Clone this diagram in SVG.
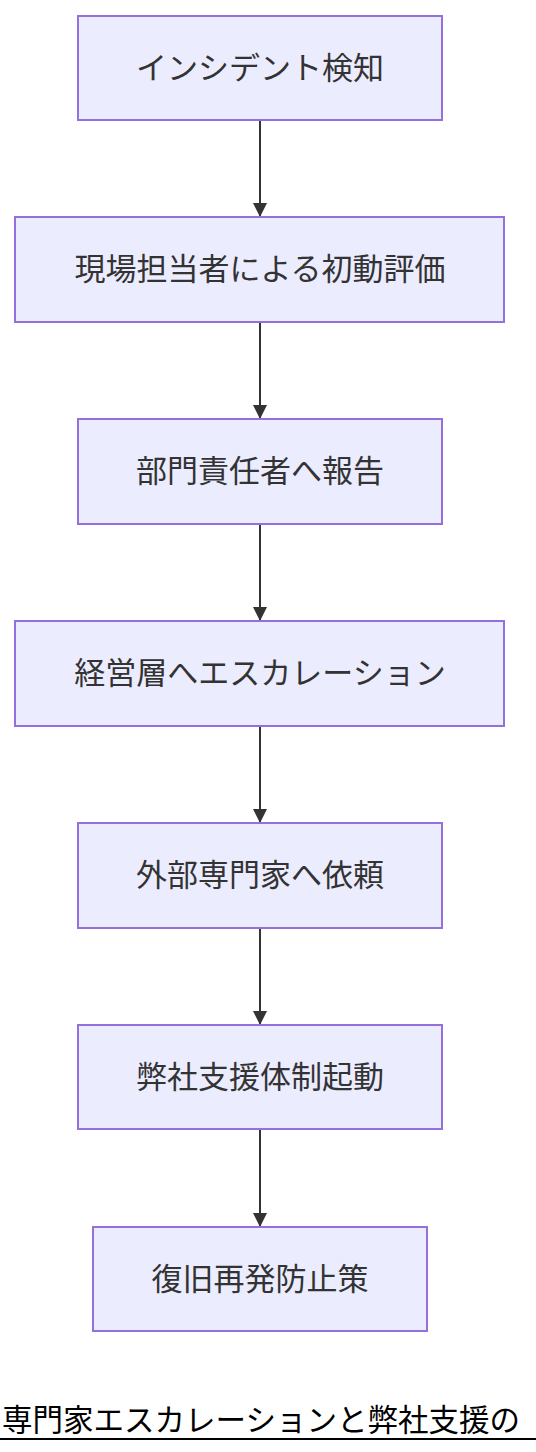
<svg xmlns="http://www.w3.org/2000/svg" width="536" height="1452" viewBox="0 0 536 1452">
<style>
.node rect{fill:#ECECFF;stroke:#9370DB;stroke-width:2}
.node text{font-family:"Noto Sans CJK JP","Noto Sans",sans-serif;font-size:31px;fill:#333;text-anchor:middle;dominant-baseline:central}
.edge{stroke:#333;stroke-width:2;fill:none;marker-end:url(#arrow)}
.title{font-family:"Noto Sans CJK JP","Noto Sans",sans-serif;font-size:30.5px;fill:#000}
</style>
<defs>
<marker id="arrow" viewBox="0 0 10 10" refX="10" refY="5" markerWidth="15" markerHeight="14" markerUnits="userSpaceOnUse" orient="auto">
<path d="M0,0 L10,5 L0,10 z" fill="#333"/>
</marker>
</defs>
<rect width="536" height="1452" fill="#fff"/>
<g id="connectors">
<line class="edge" x1="260" y1="120" x2="260" y2="217"/>
<line class="edge" x1="260" y1="322" x2="260" y2="419"/>
<line class="edge" x1="260" y1="524" x2="260" y2="621"/>
<line class="edge" x1="260" y1="726" x2="260" y2="823"/>
<line class="edge" x1="260" y1="928" x2="260" y2="1025"/>
<line class="edge" x1="260" y1="1129" x2="260" y2="1227"/>
</g>
<g id="n1" class="node"><rect x="78" y="16" width="364" height="104"/><text x="260" y="65.5">インシデント検知</text></g>
<g id="n2" class="node"><rect x="15" y="217" width="489" height="105"/><text x="260" y="266.5">現場担当者による初動評価</text></g>
<g id="n3" class="node"><rect x="78" y="419" width="364" height="105"/><text x="260" y="468.5">部門責任者へ報告</text></g>
<g id="n4" class="node"><rect x="15" y="621" width="489" height="105"/><text x="260" y="670.5">経営層へエスカレーション</text></g>
<g id="n5" class="node"><rect x="78" y="823" width="364" height="105"/><text x="260" y="872.5">外部専門家へ依頼</text></g>
<g id="n6" class="node"><rect x="78" y="1025" width="364" height="104"/><text x="260" y="1074.5">弊社支援体制起動</text></g>
<g id="n7" class="node"><rect x="93" y="1227" width="334" height="104"/><text x="260" y="1276.5">復旧再発防止策</text></g>
<g id="title">
<text class="title" x="2" y="1431">専門家エスカレーションと弊社支援の</text>
<line x1="0" y1="1439" x2="536" y2="1439" stroke="#000" stroke-width="2"/>
</g>
</svg>
